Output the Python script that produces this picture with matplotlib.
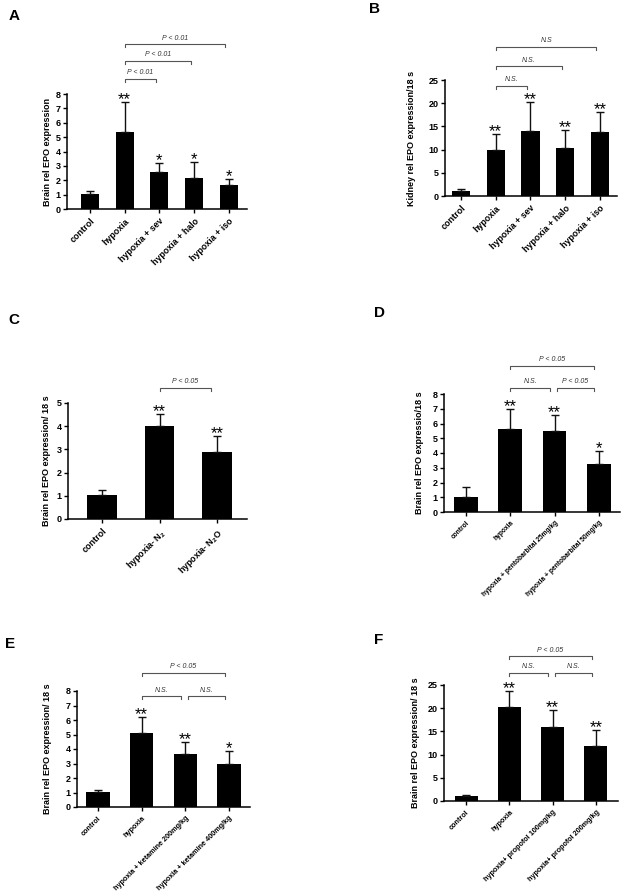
import matplotlib
matplotlib.use('Agg')
import matplotlib.pyplot as plt
from matplotlib.transforms import blended_transform_factory
import numpy as np

plt.rcParams['font.family'] = ['Liberation Sans', 'DejaVu Sans']
plt.rcParams['mathtext.fontset'] = 'custom'
plt.rcParams['mathtext.rm'] = 'Liberation Sans:bold'
plt.rcParams['mathtext.it'] = 'Liberation Sans:italic:bold'
plt.rcParams['mathtext.bf'] = 'Liberation Sans:bold'

W, H = 625, 892

# ---------------- data ----------------
a_cats = ['control', 'hypoxia', 'hypoxia + sev', 'hypoxia + halo', 'hypoxia + iso']
a_means = [1.05, 5.35, 2.6, 2.15, 1.7]
a_errs = [0.2, 2.1, 0.6, 1.15, 0.4]
a_stars = ['', '**', '*', '*', '*']
a_pairs = [(1, 2), (1, 3), (1, 4)]
a_ptext = ['P < 0.01', 'P < 0.01', 'P < 0.01']

b_cats = ['control', 'hypoxia', 'hypoxia + sev', 'hypoxia + halo', 'hypoxia + iso']
b_means = [1.1, 10.0, 14.0, 10.4, 13.9]
b_errs = [0.4, 3.4, 6.2, 3.9, 4.1]
b_stars = ['', '**', '**', '**', '**']
b_pairs = [(1, 2), (1, 3), (1, 4)]
b_ptext = ['N.S.', 'N.S.', 'N.S']

c_cats = ['control', r'hypoxia- N$_2$', r'hypoxia- N$_2$O']
c_means = [1.02, 4.0, 2.87]
c_errs = [0.25, 0.52, 0.71]
c_stars = ['', '**', '**']
c_pairs = [(1, 2)]
c_ptext = ['P < 0.05']

d_cats = ['control', 'hypoxia', 'hypoxia + pentobarbital 25mg/kg', 'hypoxia + pentobarbital 50mg/kg']
d_means = [1.05, 5.65, 5.5, 3.25]
d_errs = [0.65, 1.3, 1.05, 0.9]
d_stars = ['', '**', '**', '*']
d_pairs = [(1, 2), (2, 3), (1, 3)]
d_ptext = ['N.S.', 'P < 0.05', 'P < 0.05']

e_cats = ['control', 'hypoxia', 'hypoxia + ketamine 200mg/kg', 'hypoxia + ketamine 400mg/kg']
e_means = [1.02, 5.1, 3.65, 3.0]
e_errs = [0.18, 1.1, 0.85, 0.85]
e_stars = ['', '**', '**', '*']
e_pairs = [(1, 2), (2, 3), (1, 3)]
e_ptext = ['N.S.', 'N.S.', 'P < 0.05']

f_cats = ['control', 'hypoxia', 'hypoxia+ propofol 100mg/kg', 'hypoxia+ propofol 200mg/kg']
f_means = [1.1, 20.2, 16.0, 11.8]
f_errs = [0.2, 3.5, 3.7, 3.5]
f_stars = ['', '**', '**', '**']
f_pairs = [(1, 2), (2, 3), (1, 3)]
f_ptext = ['N.S.', 'N.S.', 'P < 0.05']

fig = plt.figure(figsize=(W / 100, H / 100), dpi=100)


def panel(rect, xlim, ymax, ystep, cats, means, errs, stars, ylabel, ylab_x,
          pairs, ptexts, pair_y, letter, letter_xy, tick_fs, width):
    x0, x1, ytop, ybot = rect
    ax = fig.add_axes([x0 / W, 1 - ybot / H, (x1 - x0) / W, (ybot - ytop) / H])
    x = np.arange(len(cats))
    ax.bar(x, means, width=width, color='black',
           yerr=[np.zeros(len(errs)), errs], capsize=3.2,
           error_kw=dict(elinewidth=1.0, capthick=1.0, ecolor='#111111'))
    ax.set_xlim(*xlim)
    ax.set_ylim(0, ymax)
    ax.set_yticks(np.arange(0, ymax + 1e-6, ystep))
    ax.set_yticklabels([str(int(v)) for v in np.arange(0, ymax + 1e-6, ystep)],
                       fontsize=6.5, fontweight='bold')
    ax.set_xticks(x)
    ax.set_xticklabels(cats, rotation=45, ha='right', rotation_mode='anchor',
                       fontsize=tick_fs, fontweight='bold')
    for s in ['top', 'right']:
        ax.spines[s].set_visible(False)
    for s in ['left', 'bottom']:
        ax.spines[s].set_linewidth(1.1)
    ax.tick_params(axis='both', length=3, width=1.0, pad=1.5)
    ax.tick_params(axis='x', pad=2.5)
    # stars
    for i, (m, e, st) in enumerate(zip(means, errs, stars)):
        if st:
            ax.annotate(st, xy=(i, m + e), xytext=(0, -1.5), textcoords='offset points',
                        ha='center', va='baseline', fontsize=12)
    # y label
    fig.text(ylab_x / W, 1 - (ytop + ybot) / 2 / H, ylabel, rotation=90,
             ha='center', va='center', fontsize=6.5, fontweight='bold')
    # brackets
    tr = blended_transform_factory(ax.transData, fig.transFigure)
    for (i, j), txt, py in zip(pairs, ptexts, pair_y):
        xl = i + (0.05 if i > 1 else 0.0)
        xr = j - 0.1
        yb = 1 - py / H
        yt = 3 / H
        ax.plot([xl, xl, xr, xr], [yb - yt, yb, yb, yb - yt], transform=tr,
                color='#555555', lw=0.8, clip_on=False)
        ax.text((xl + xr) / 2, yb + 2.5 / H, txt, transform=tr, ha='center',
                va='bottom', fontsize=5, style='italic', color='#333333')
    fig.text(letter_xy[0] / W, 1 - letter_xy[1] / H, letter, ha='center',
             va='center', fontsize=11, fontweight='bold')
    return ax


panel((67, 247, 94, 209), (-0.66, 4.52), 8, 1, a_cats, a_means, a_errs, a_stars,
      'Brain rel EPO expression', 47, a_pairs, a_ptext, [79, 61, 44],
      'A', (14, 16), 6.4, 0.52)
panel((445, 617, 80, 196), (-0.46, 4.49), 25, 5, b_cats, b_means, b_errs, b_stars,
      'Kidney rel EPO expression/18 s', 412, b_pairs, b_ptext, [86, 66, 47],
      'B', (374, 9), 6.4, 0.52)
panel((68, 247, 403, 519), (-0.59, 2.52), 5, 1, c_cats, c_means, c_errs, c_stars,
      'Brain rel EPO expression/ 18 s', 47, c_pairs, c_ptext, [388],
      'C', (14, 320), 6.4, 0.52)
panel((444, 620, 394, 512), (-0.50, 3.48), 8, 1, d_cats, d_means, d_errs, d_stars,
      'Brain rel EPO expressio/18 s', 419, d_pairs, d_ptext, [388, 388, 366],
      'D', (379, 313), 4.8, 0.54)
panel((77, 250, 691, 807), (-0.48, 3.48), 8, 1, e_cats, e_means, e_errs, e_stars,
      'Brain rel EPO expression/ 18 s', 48, e_pairs, e_ptext, [696, 696, 673],
      'E', (10, 644), 5.2, 0.53)
panel((444, 618, 685, 801), (-0.51, 3.51), 25, 5, f_cats, f_means, f_errs, f_stars,
      'Brain rel EPO expression/ 18 s', 416, f_pairs, f_ptext, [673, 673, 656],
      'F', (379, 640), 5.2, 0.53)

fig.savefig('out.png', dpi=100, facecolor='white')
